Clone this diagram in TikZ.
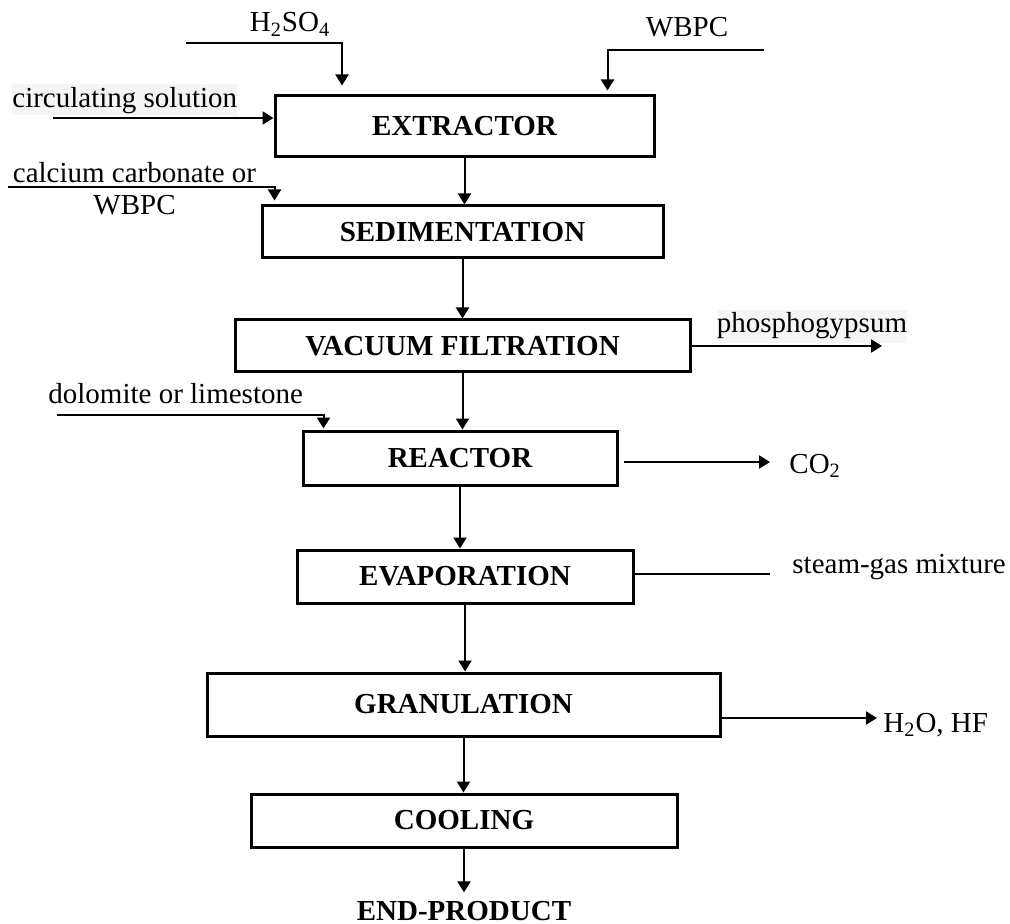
\documentclass[tikz,border=0pt]{standalone}
\usepackage{fontspec}
\setmainfont{Liberation Serif}
\usepackage{tikz}
\usetikzlibrary{arrows.meta,positioning}
\tikzset{
    %Define standard arrow tip
    >={Triangle[length=5.5pt,width=6.5pt]},
    %Define style for process boxes
    stage/.style={
           rectangle,
           draw=black, line width=1.5pt,
           inner sep=0pt,
           font=\fontsize{14.5}{16}\selectfont\bfseries,
           text centered},
    %Define style for stream labels
    stream/.style={
           inner sep=0pt,
           font=\fontsize{14.5}{16}\selectfont},
    shaded/.style={
           fill=black!4},
    % Define arrow style
    pil/.style={
           ->,
           line width=1pt},
    flat/.style={
           line width=1pt}
}

\begin{document}
\begin{tikzpicture}[x=0.5pt,y=-0.5pt]
\useasboundingbox (0,0) rectangle (1010,924);
 %nodes
\node[stage, minimum width=189.5pt, minimum height=30.5pt] (ext) at (464.5,126.5) {EXTRACTOR};
\node[stage, minimum width=200.5pt, minimum height=26pt] (sed) at (462.5,232) {SEDIMENTATION};
\node[stage, minimum width=227.5pt, minimum height=26pt] (vac) at (462.5,346) {VACUUM FILTRATION};
\node[stage, minimum width=157pt, minimum height=27pt] (rea) at (460,458) {REACTOR};
\node[stage, minimum width=168pt, minimum height=26.5pt] (evap) at (465,576.5) {EVAPORATION};
\node[stage, minimum width=256.5pt, minimum height=31.5pt] (gran) at (463.5,704.5) {GRANULATION};
\node[stage, minimum width=213pt, minimum height=26.5pt] (cool) at (464,820.5) {COOLING};
\node[stream, font=\fontsize{14.5}{16}\selectfont\bfseries, anchor=base] (endp) at (464,920) {END-PRODUCT};
 %labels
\fill[shaded] (12,84) rectangle (237,115);
\fill[shaded] (718,310) rectangle (907,343);
\node[stream, anchor=base] (h2so4) at (290,32) {H\textsubscript{2}SO\textsubscript{4}};
\node[stream, anchor=base] (wbpc) at (687,37) {WBPC};
\node[stream, anchor=base west] (circ) at (12,108) {circulating solution};
\node[stream, anchor=north, align=center] (calc) at (134.5,162) {calcium carbonate or\\WBPC};
\node[stream, anchor=base] (phos) at (812,333) {phosphogypsum};
\node[stream, anchor=base west] (dolo) at (48,403) {dolomite or limestone};
\node[stream, anchor=base west] (co2) at (789,473) {CO\textsubscript{2}};
\node[stream, anchor=base west] (steam) at (792,573) {steam-gas mixture};
\node[stream, anchor=base west] (hf) at (883,732) {H\textsubscript{2}O, HF};
 %stream ends
\coordinate (h2in) at (186,43);
\coordinate (wbin) at (764,50);
\coordinate (circin) at (53,118);
\coordinate (cain) at (8,187);
\coordinate (phout) at (882,346);
\coordinate (dolin) at (57,415);
\coordinate (co2out) at (770,462);
\coordinate (stout) at (770,574);
\coordinate (hfout) at (877,718);
 %main line
\draw[pil] (ext.south) -- (ext.south |- sed.north);
\draw[pil] (sed.south) -- (sed.south |- vac.north);
\draw[pil] (vac.south) -- (vac.south |- rea.north);
\draw[pil] (rea.south) -- (rea.south |- evap.north);
\draw[pil] (evap.south) -- (evap.south |- gran.north);
\draw[pil] (gran.south) -- (gran.south |- cool.north);
\draw[pil, shorten >=4pt] (cool.south) -- (cool.south |- endp.north);
 %side streams
\draw[pil] (h2in) -| ([shift={(-122.5,-9)}]ext.north);
\draw[pil] (wbin) -| ([shift={(143,-4)}]ext.north);
\draw[pil] (circin) -- (circin -| ext.west);
\draw[pil] (cain) -| ([shift={(14,-4)}]sed.north west);
\draw[pil] (vac.east) -- (phout);
\draw[pil] (dolin) -| ([shift={(22,-1)}]rea.north west);
\draw[pil, shorten <=2.5pt] (rea.east |- co2out) -- (co2out);
\draw[flat] (evap.east |- stout) -- (stout);
\draw[pil] (gran.east |- hfout) -- (hfout);
\end{tikzpicture}
\end{document}
